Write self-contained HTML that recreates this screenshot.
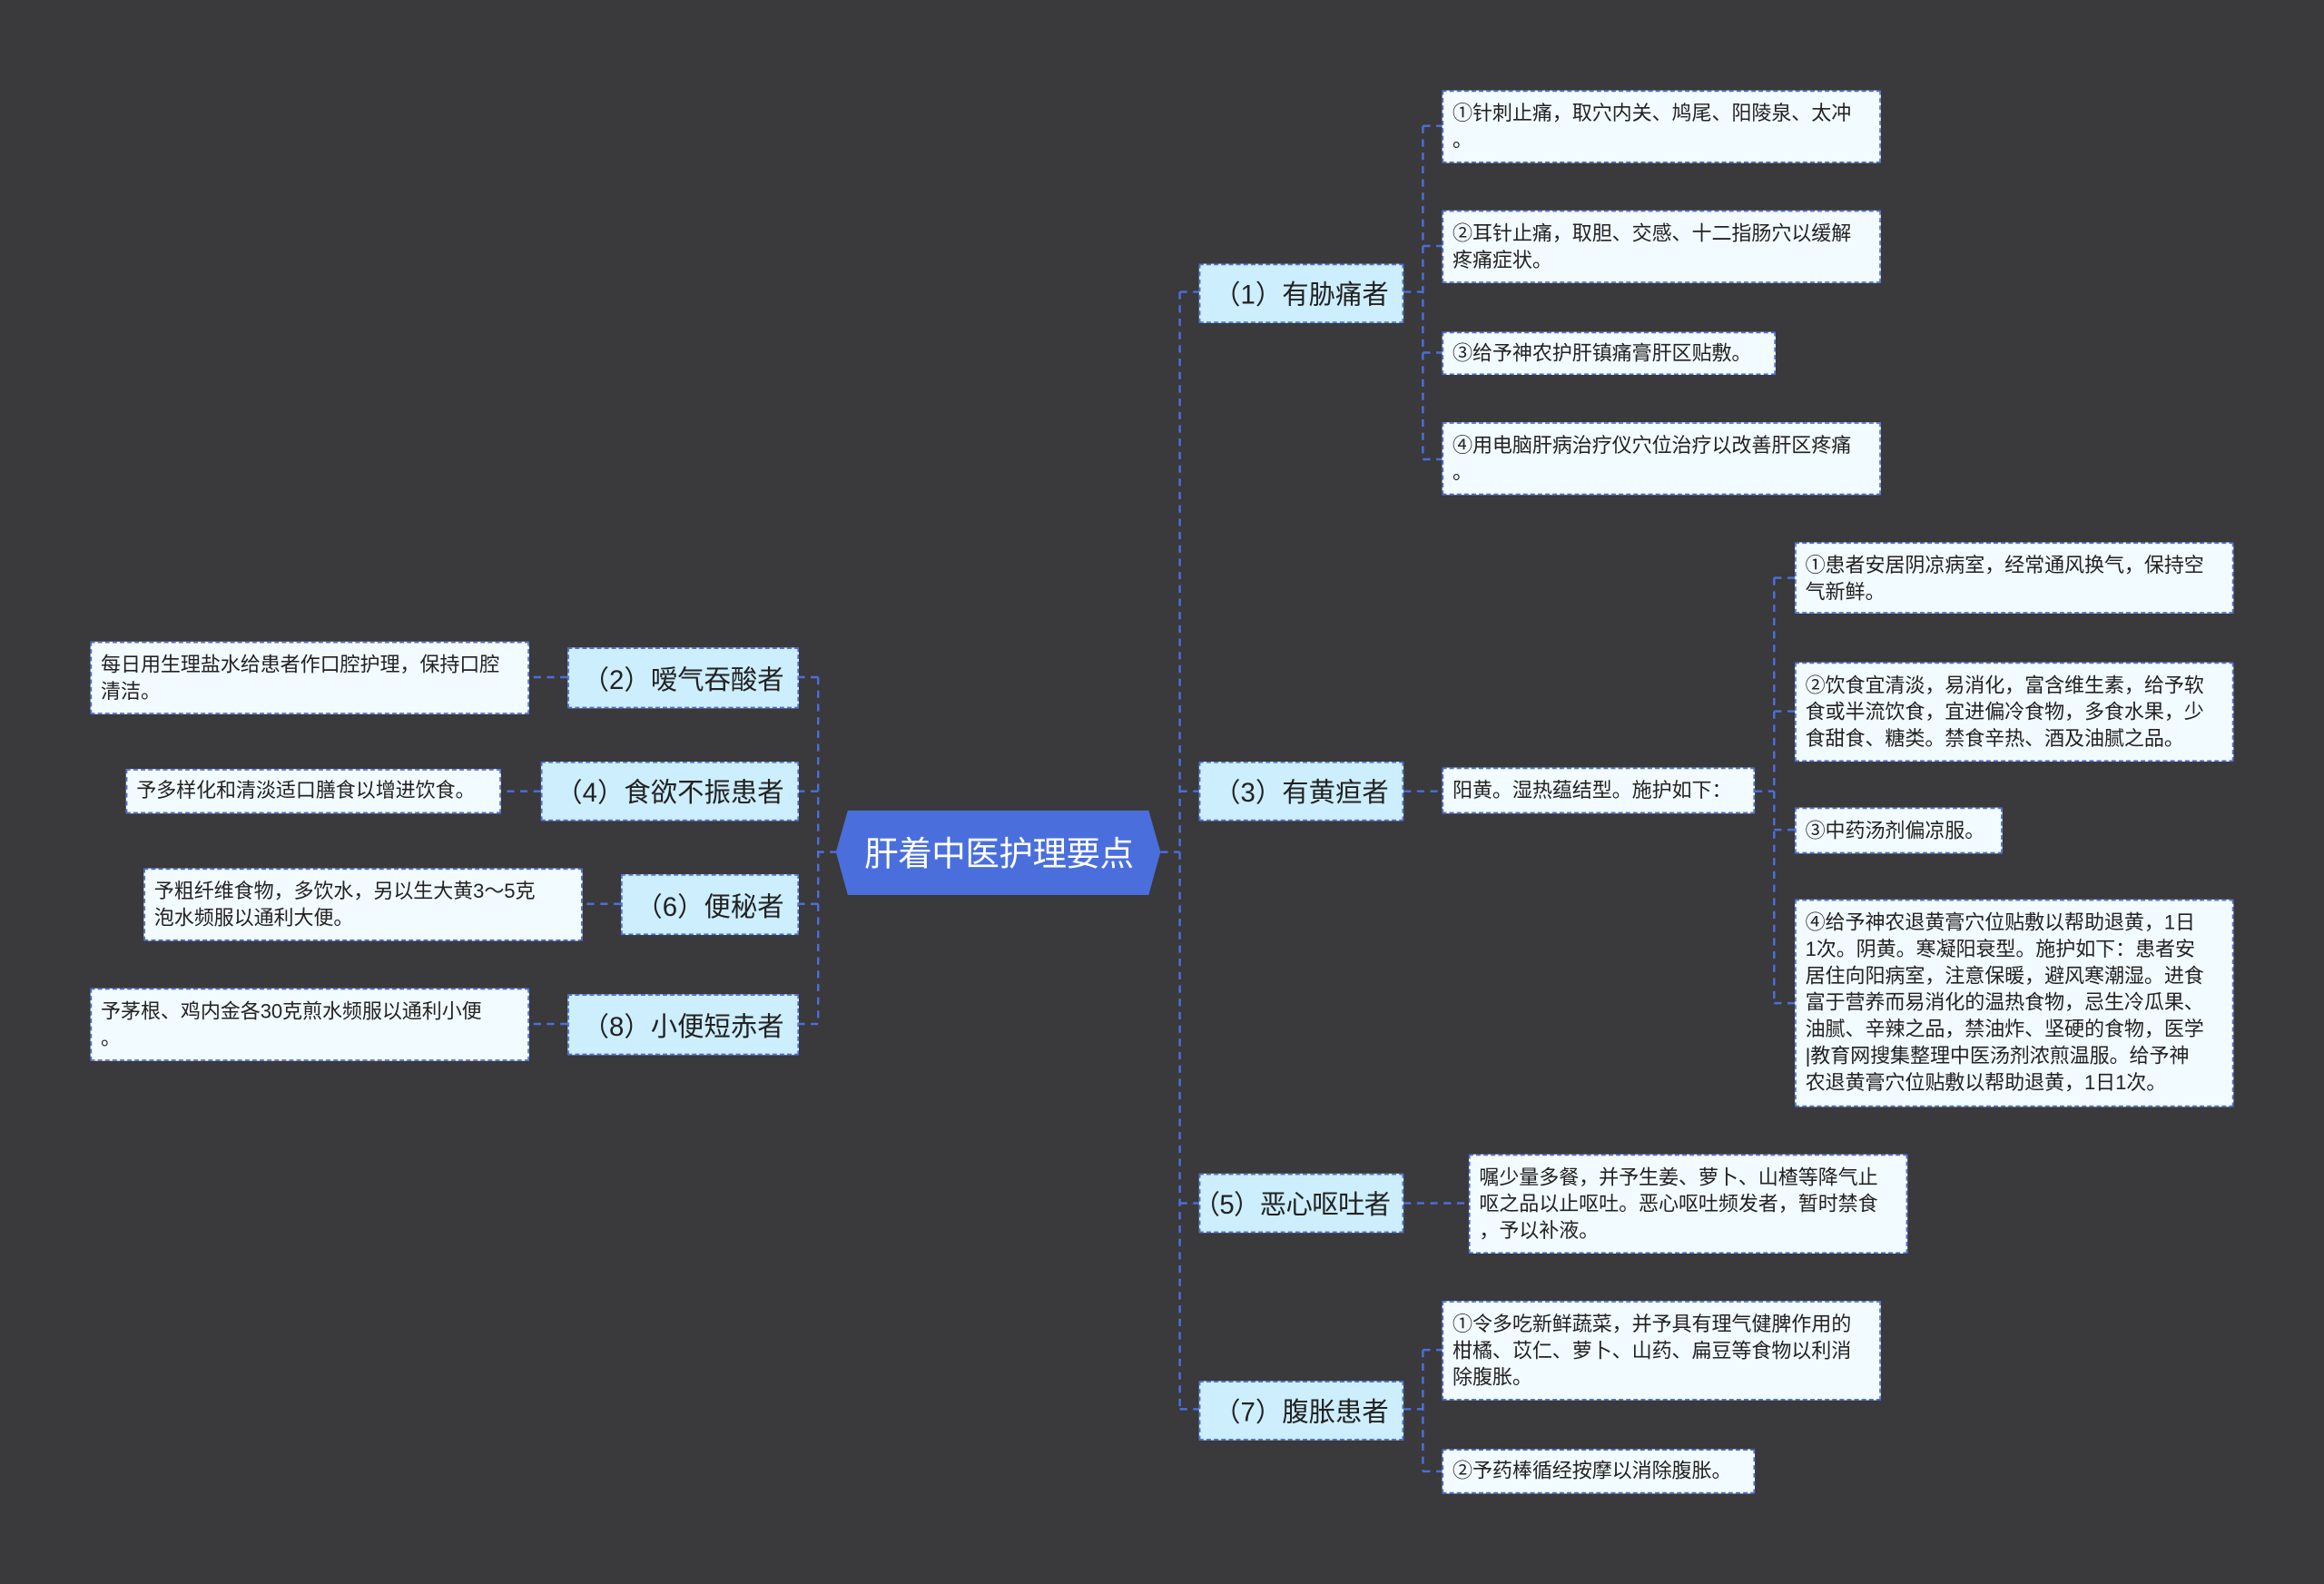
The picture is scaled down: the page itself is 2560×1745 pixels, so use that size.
<!DOCTYPE html>
<html><head><meta charset="utf-8"><style>
html,body{margin:0;padding:0;background:#3a393b;overflow:hidden}
#s{position:absolute;left:0;top:0;width:1568px;height:1069px;transform:scale(1.63265,1.63237);transform-origin:0 0;font-family:"Liberation Sans","Noto Sans CJK SC",sans-serif}
.n{position:absolute;box-sizing:border-box;border:1px dashed #4a6fdc;}
.l1{background:#cdeefd;color:#222;font-size:18px;display:flex;align-items:center;justify-content:flex-end;padding-right:9px;white-space:nowrap;letter-spacing:0}
.lf{background:#f2fbff;color:#222;font-size:13.5px;line-height:18px;padding:6px 2px 6px 6px;letter-spacing:-0.05px;white-space:nowrap}
</style></head><body><div id="s">
<svg width="1568" height="1069" style="position:absolute;left:0;top:0">
<g stroke="#4a6fdc" stroke-width="1.5" fill="none" stroke-dasharray="5,4">
<path d="M783 575H796M796 197V951M796 197H809M796 534H809M796 812H809M796 951H809"/>
<path d="M947 197H960M960 85V310M960 85H973M960 166H973M960 238H973M960 310H973"/>
<path d="M947 534H973M1184 534H1197M1197 390V677M1197 390H1211M1197 480H1211M1197 560H1211M1197 677H1211"/>
<path d="M947 812H991"/>
<path d="M947 951H960M960 911V993M960 911H973M960 993H973"/>
<path d="M565 575H552M552 457V691M552 457H539M552 534H539M552 610H539M552 691H539"/>
<path d="M383 457H357M365 534H338M419 610H393M383 691H357"/>
</g></svg>
<svg width="220" height="60" style="position:absolute;left:564px;top:546px"><polygon points="8,1 211,1 219,29 211,58 8,58 0,29" fill="#4a6fdc"/></svg>
<div style="position:absolute;left:565px;top:545px;width:218px;height:57px;display:flex;align-items:center;justify-content:center;color:#fff;font-size:23px;letter-spacing:-0.3px">肝着中医护理要点</div>

<div class="n l1" style="left:809px;top:178px;width:138px;height:40px">（1）有胁痛者</div>
<div class="n l1" style="left:809px;top:514px;width:138px;height:40px">（3）有黄疸者</div>
<div class="n l1" style="left:809px;top:792px;width:138px;height:40px;letter-spacing:-0.4px;padding-right:8px">（5）恶心呕吐者</div>
<div class="n l1" style="left:809px;top:932px;width:138px;height:40px">（7）腹胀患者</div>
<div class="n l1" style="left:383px;top:437px;width:156px;height:41px">（2）嗳气吞酸者</div>
<div class="n l1" style="left:365px;top:514px;width:174px;height:40px">（4）食欲不振患者</div>
<div class="n l1" style="left:419px;top:590px;width:120px;height:41px">（6）便秘者</div>
<div class="n l1" style="left:383px;top:671px;width:156px;height:41px">（8）小便短赤者</div>

<div class="n lf" style="left:973px;top:61px;width:296px;height:49px">①针刺止痛，取穴内关、鸠尾、阳陵泉、太冲<br>。</div>
<div class="n lf" style="left:973px;top:142px;width:296px;height:49px">②耳针止痛，取胆、交感、十二指肠穴以缓解<br>疼痛症状。</div>
<div class="n lf" style="left:973px;top:224px;width:225px;height:29px;padding-top:5px">③给予神农护肝镇痛膏肝区贴敷。</div>
<div class="n lf" style="left:973px;top:285px;width:296px;height:49px">④用电脑肝病治疗仪穴位治疗以改善肝区疼痛<br>。</div>
<div class="n lf" style="left:973px;top:518px;width:211px;height:31px;padding-top:6px">阳黄。湿热蕴结型。施护如下：</div>
<div class="n lf" style="left:1211px;top:366px;width:296px;height:48px">①患者安居阴凉病室，经常通风换气，保持空<br>气新鲜。</div>
<div class="n lf" style="left:1211px;top:447px;width:296px;height:67px">②饮食宜清淡，易消化，富含维生素，给予软<br>食或半流饮食，宜进偏冷食物，多食水果，少<br>食甜食、糖类。禁食辛热、酒及油腻之品。</div>
<div class="n lf" style="left:1211px;top:545px;width:140px;height:31px">③中药汤剂偏凉服。</div>
<div class="n lf" style="left:1211px;top:607px;width:296px;height:140px">④给予神农退黄膏穴位贴敷以帮助退黄，1日<br>1次。阴黄。寒凝阳衰型。施护如下：患者安<br>居住向阳病室，注意保暖，避风寒潮湿。进食<br>富于营养而易消化的温热食物，忌生冷瓜果、<br>油腻、辛辣之品，禁油炸、坚硬的食物，医学<br>|教育网搜集整理中医汤剂浓煎温服。给予神<br>农退黄膏穴位贴敷以帮助退黄，1日1次。</div>
<div class="n lf" style="left:991px;top:779px;width:296px;height:67px">嘱少量多餐，并予生姜、萝卜、山楂等降气止<br>呕之品以止呕吐。恶心呕吐频发者，暂时禁食<br>，予以补液。</div>
<div class="n lf" style="left:973px;top:878px;width:296px;height:67px">①令多吃新鲜蔬菜，并予具有理气健脾作用的<br>柑橘、苡仁、萝卜、山药、扁豆等食物以利消<br>除腹胀。</div>
<div class="n lf" style="left:973px;top:978px;width:211px;height:30px;padding-top:5px">②予药棒循经按摩以消除腹胀。</div>
<div class="n lf" style="left:61px;top:433px;width:296px;height:49px">每日用生理盐水给患者作口腔护理，保持口腔<br>清洁。</div>
<div class="n lf" style="left:85px;top:519px;width:253px;height:30px;padding-top:5px">予多样化和清淡适口膳食以增进饮食。</div>
<div class="n lf" style="left:97px;top:586px;width:296px;height:49px">予粗纤维食物，多饮水，另以生大黄3～5克<br>泡水频服以通利大便。</div>
<div class="n lf" style="left:61px;top:667px;width:296px;height:49px">予茅根、鸡内金各30克煎水频服以通利小便<br>。</div>
</div></body></html>
